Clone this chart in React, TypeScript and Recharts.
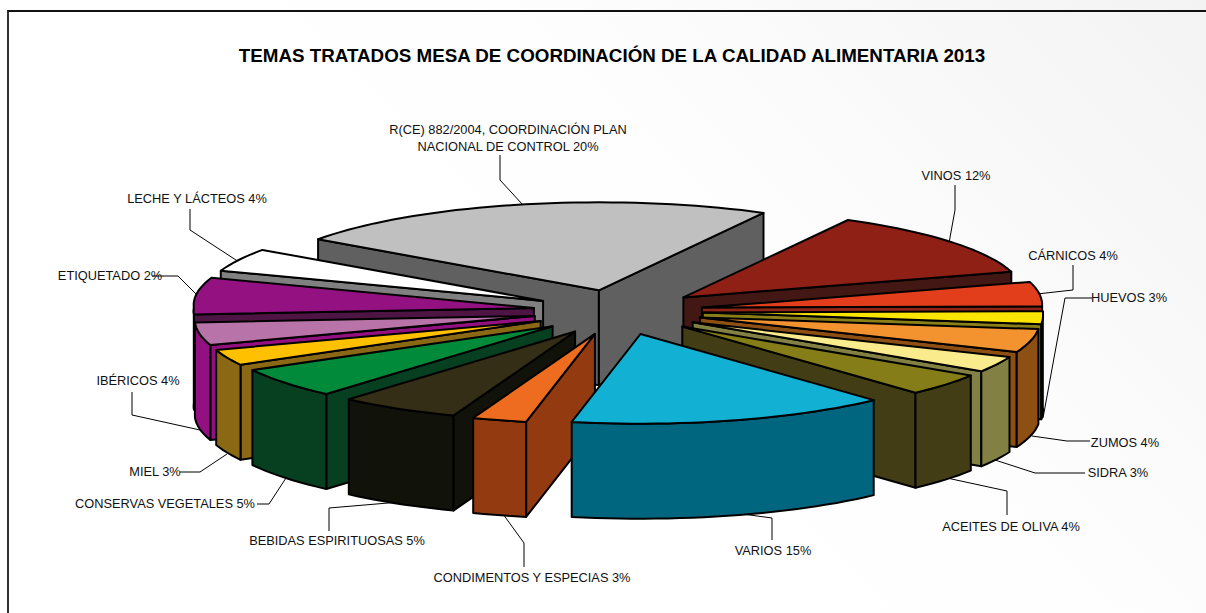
import React from 'react';
import { PieChart, Pie } from 'recharts';

const TITLE = 'TEMAS TRATADOS MESA DE COORDINACIÓN DE LA CALIDAD ALIMENTARIA 2013';

const categories = [
  'R(CE) 882/2004', 'VINOS', 'CÁRNICOS', 'HUEVOS', 'ZUMOS', 'SIDRA', 'ACEITES DE OLIVA', 'VARIOS',
  'CONDIMENTOS Y ESPECIAS', 'BEBIDAS ESPIRITUOSAS', 'CONSERVAS VEGETALES', 'MIEL', 'IBÉRICOS', 'ETIQUETADO', 'LECHE Y LÁCTEOS',
];
// shares (the printed percents do not add up to 100)
const shares = [22.8, 12.4, 4.6, 2.4, 4.3, 2.9, 4, 14.8, 2.5, 5.6, 5.5, 2.9, 4.2, 6.9, 4.3];
const topColors = [
  '#C0C0C0', '#8E2016', '#E33E1C', '#FAE500', '#F29330', '#FAEB8D', '#857D18', '#12B1D3',
  '#EE6C1F', '#332E15', '#008A39', '#FFC000', '#B874A8', '#941181', '#FFFFFF',
];
const sideColors = [
  '#606060', '#431714', '#8F2516', '#8A8016', '#8E4F12', '#828042', '#423D15', '#006680',
  '#943A11', '#11120A', '#074020', '#8B6914', '#92107F', '#4D1444', '#808080',
];
// back slices first, so the front ones paint over them
const drawOrder = [0, 1, 14, 2, 13, 3, 12, 4, 5, 6, 11, 10, 9, 8, 7];

const labelLines: { text: string[]; x: number; y: number; leader: number[][] }[] = [
  { text: ['R(CE) 882/2004, COORDINACIÓN PLAN', 'NACIONAL DE CONTROL 20%'], x: 508, y: 134, leader: [[500, 155], [500, 180], [523, 205]] },
  { text: ['VINOS 12%'], x: 956, y: 180, leader: [[955, 185], [955, 210], [949, 243]] },
  { text: ['CÁRNICOS 4%'], x: 1073, y: 260, leader: [[1073, 265], [1073, 290], [1037, 294]] },
  { text: ['HUEVOS 3%'], x: 1129, y: 302, leader: [[1092, 298], [1065, 298], [1043, 418]] },
  { text: ['ZUMOS 4%'], x: 1125, y: 447, leader: [[1090, 441], [1067, 441], [1032, 436]] },
  { text: ['SIDRA 3%'], x: 1118, y: 477, leader: [[1085, 473], [1035, 473], [995, 460]] },
  { text: ['ACEITES DE OLIVA 4%'], x: 1011, y: 531, leader: [[1007, 515], [1007, 491], [947, 478]] },
  { text: ['VARIOS 15%'], x: 773, y: 555, leader: [[772, 540], [772, 518], [735, 513]] },
  { text: ['CONDIMENTOS Y ESPECIAS 3%'], x: 532, y: 582, leader: [[524, 567], [524, 543], [503, 514]] },
  { text: ['BEBIDAS ESPIRITUOSAS 5%'], x: 337, y: 545, leader: [[329, 531], [329, 508], [400, 502]] },
  { text: ['CONSERVAS VEGETALES 5%'], x: 165, y: 508, leader: [[257, 504], [269, 504], [286, 478]] },
  { text: ['MIEL 3%'], x: 155, y: 476, leader: [[180, 472], [200, 472], [227, 454]] },
  { text: ['IBÉRICOS 4%'], x: 138, y: 385, leader: [[132, 392], [132, 415], [200, 430]] },
  { text: ['ETIQUETADO 2%'], x: 110, y: 280, leader: [[152, 276], [178, 276], [197, 295]] },
  { text: ['LECHE Y LÁCTEOS 4%'], x: 197, y: 203, leader: [[190, 209], [190, 230], [239, 262]] },
];

const tableData = categories.map((name, i) => ({ name, value: shares[i] }));

const WIDTH = 1206;
const HEIGHT = 613;
const CX = 618;
const CY = 311;
const RADIUS = 340;
const SPREAD = 12; // the pie reaches a little further at front and back than at the sides
const TILT_BACK = 0.25;
const TILT_FRONT = 0.255;
const EXPLODE_TILT_FRONT = 0.28;
const DEPTH = 95;
const EXPLODE = 85;

const rad = (deg: number) => (deg * Math.PI) / 180;

const toPath = (pts: number[][]) =>
  pts.map((p, i) => `${i ? 'L' : 'M'}${p[0].toFixed(1)},${p[1].toFixed(1)}`).join(' ') + ' Z';

// one exploded slice: the walls that face the viewer, then the top
const Slice3D = (props: any) => {
  const { cx, cy, outerRadius, startAngle, endAngle, midAngle, colorIndex } = props;
  const midSin = Math.sin(rad(midAngle));
  const ox = cx + EXPLODE * Math.cos(rad(midAngle));
  const oy = cy - EXPLODE * (midSin < 0 ? EXPLODE_TILT_FRONT : TILT_BACK) * midSin;
  const at = (a: number, drop = 0) => {
    const s = Math.sin(rad(a));
    const r = outerRadius + SPREAD * Math.abs(s);
    return [ox + r * Math.cos(rad(a)), oy - r * (s < 0 ? TILT_FRONT : TILT_BACK) * s + drop];
  };
  const arc = (from: number, to: number, drop = 0) => {
    const steps = Math.max(2, Math.ceil(Math.abs(from - to) / 2));
    const pts: number[][] = [];
    for (let s = 0; s <= steps; s++) pts.push(at(from + ((to - from) * s) / steps, drop));
    return pts;
  };
  const wall = (a: number) =>
    toPath([[ox, oy], at(a), at(a, DEPTH), [ox, oy + DEPTH]]);

  const common = { stroke: '#000', strokeWidth: 2, strokeLinejoin: 'round' as const };
  const side = sideColors[colorIndex];

  // front half of the rim only: recharts angles between 180 and 360 (or -180 and 0)
  const rims: number[][] = [];
  for (const [lo, hi] of [[-180, 0], [180, 360], [-540, -360]]) {
    const from = Math.min(startAngle, hi);
    const to = Math.max(endAngle, lo);
    if (from > to) rims.push([from, to]);
  }

  return (
    <g>
      {Math.cos(rad(startAngle)) < 0 && <path d={wall(startAngle)} fill={side} {...common} />}
      {Math.cos(rad(endAngle)) > 0 && <path d={wall(endAngle)} fill={side} {...common} />}
      {rims.map(([from, to]) => (
        <path
          key={from}
          d={toPath([...arc(from, to), ...arc(to, from, DEPTH)])}
          fill={side}
          {...common}
        />
      ))}
      <path d={toPath([[ox, oy], ...arc(startAngle, endAngle)])} fill={topColors[colorIndex]} {...common} />
    </g>
  );
};

export default function App() {
  return (
    <div style={{ position: 'absolute', left: 0, top: 0, width: WIDTH, height: HEIGHT, background: 'linear-gradient(225deg, #f3f3f3 0%, #fdfdfd 35%, #fff 55%)', overflow: 'hidden' }}>
      <div style={{ position: 'absolute', left: 7, top: 10, width: 1300, height: 620, borderLeft: '2px solid #333', borderTop: '2px solid #111' }} />
      <div style={{ position: 'absolute', left: 0, top: 0 }}>
        <PieChart width={WIDTH} height={HEIGHT} margin={{ top: 0, right: 0, bottom: 0, left: 0 }}>
          <text x={612} y={62} textAnchor="middle" fontFamily="Liberation Sans" fontWeight="bold" fontSize={18.8} fill="#000">
            {TITLE}
          </text>
          {drawOrder.map((k) => (
            <Pie
              key={k}
              data={tableData}
              dataKey="value"
              nameKey="name"
              cx={CX}
              cy={CY}
              innerRadius={0}
              outerRadius={RADIUS}
              startAngle={144}
              endAngle={-216}
              paddingAngle={0}
              stroke="none"
              fill="none"
              isAnimationActive={false}
              shape={(p: any) => (p.name === categories[k] ? <Slice3D {...p} colorIndex={k} /> : <g />)}
            />
          ))}
          {labelLines.map((l) => (
            <g key={l.text[0]}>
              <polyline
                points={l.leader.map((p) => p.join(',')).join(' ')}
                fill="none"
                stroke="#000"
                strokeWidth={1}
              />
              <text x={l.x} y={l.y} textAnchor="middle" fontFamily="Liberation Sans" fontSize={12.8} fill="#111">
                {l.text.map((t, i) => (
                  <tspan key={t} x={l.x} dy={i ? 17 : 0}>
                    {t}
                  </tspan>
                ))}
              </text>
            </g>
          ))}
        </PieChart>
      </div>
    </div>
  );
}
